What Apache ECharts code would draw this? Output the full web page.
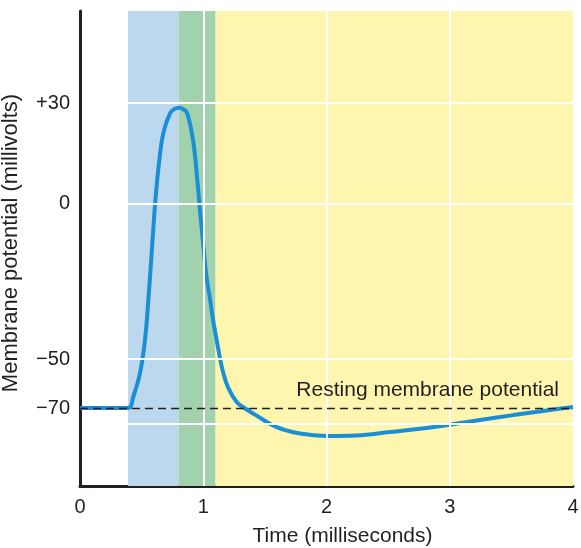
<!DOCTYPE html>
<html>
<head>
<meta charset="utf-8">
<script src="https://cdn.jsdelivr.net/npm/echarts@6/dist/echarts.min.js"></script>
<style>
  html, body { margin: 0; padding: 0; background: #ffffff; }
  #chart { width: 581px; height: 548px; }
</style>
</head>
<body>
<div id="chart"></div>
<script>
// ---- Data ----
const timeMs = [0, 0.39, 0.4325, 0.4868, 0.5274, 0.5598, 0.5866, 0.6118, 0.641, 0.6759, 0.7302, 0.7667, 0.8032, 0.8398, 0.8706, 0.9193, 0.9517, 0.9736, 0.998, 1.028, 1.0548, 1.0815, 1.1091, 1.1359, 1.1627, 1.2032, 1.2714, 1.3331, 1.4199, 1.5959, 1.785, 2.0016, 2.245, 2.5152, 2.7043, 2.9753, 3.2454, 3.5156, 3.7866, 4.0];
const potentialMv = [-70, -70, -65.4, -55.8, -43.9, -28.1, -13.0, 1.0, 12.1, 21.0, 26.9, 28.2, 28.6, 28.1, 26.9, 18.4, 7.0, -2.1, -12.4, -24.0, -30.7, -37.9, -43.9, -49.8, -55.7, -61.8, -67.6, -70.0, -72.7, -77.8, -80.4, -81.4, -81.2, -79.8, -78.8, -77.0, -74.9, -72.9, -71.0, -69.6];

const xTickValues = [0, 1, 2, 3, 4];
const yTickMv = [30, 0, -50, -70];
const yTickLabels = ['+30', '0', '\u221250', '\u221270'];
const gridLineMv = [30, 0, -50, -76.5];
const gridLineMs = [1, 2, 3];
const phaseStartMs = [0.39, 0.80, 1.10];
const phaseEndMs = [0.80, 1.10, 4.0];
const restingMv = -70;
const restingLabel = 'Resting membrane potential';
const xTitle = 'Time (milliseconds)';
const yTitle = 'Membrane potential (millivolts)';

// ---- The figure's vertical scale is piecewise linear between its labelled values ----
const SCALE_MV = [-70, -50, 0, 30];
const SCALE_U = [78, 127, 282.5, 383];
function toU(mv) {
  let i = 0;
  if (mv <= SCALE_MV[0]) i = 0;
  else if (mv >= SCALE_MV[SCALE_MV.length - 1]) i = SCALE_MV.length - 2;
  else { while (mv > SCALE_MV[i + 1]) i++; }
  const m0 = SCALE_MV[i], m1 = SCALE_MV[i + 1], u0 = SCALE_U[i], u1 = SCALE_U[i + 1];
  return u0 + (mv - m0) * (u1 - u0) / (m1 - m0);
}

const phaseColors = ['#bcd8ee', '#a1d2ad', '#fef6ae'];
const ink = '#231f20';
const font = '"Liberation Sans", Arial, Helvetica, sans-serif';

const chart = echarts.init(document.getElementById('chart'), null, { renderer: 'canvas' });

const option = {
  animation: false,
  backgroundColor: '#ffffff',
  grid: { left: 80, right: 8, top: 11, bottom: 62, containLabel: false, outerBoundsMode: 'none' },
  xAxis: {
    type: 'value', min: 0, max: 4, interval: 1,
    axisLine: { show: true, onZero: false, lineStyle: { color: ink, width: 3 } },
    axisTick: { show: false },
    splitLine: { show: false },
    axisLabel: { color: ink, fontSize: 20, fontFamily: font, margin: 11,
      customValues: xTickValues, formatter: v => String(v) },
    name: xTitle, nameLocation: 'middle', nameGap: 40,
    nameTextStyle: { color: ink, fontSize: 21, fontFamily: font, padding: [0, 0, 0, 32] }
  },
  yAxis: {
    type: 'value', min: 0, max: 475,
    axisLine: { show: true, onZero: false, lineStyle: { color: ink, width: 3 } },
    axisTick: { show: false },
    splitLine: { show: false },
    axisLabel: {
      color: ink, fontSize: 20, fontFamily: font, margin: 10,
      customValues: yTickMv.map(toU),
      formatter: v => {
        const i = yTickMv.findIndex(m => Math.abs(toU(m) - v) < 0.01);
        return i >= 0 ? yTickLabels[i] : '';
      }
    },
    name: yTitle, nameLocation: 'middle', nameGap: 58, nameRotate: 90,
    nameTextStyle: { color: ink, fontSize: 22, fontFamily: font, padding: [0, 0, 0, 11] }
  },
  series: [
    {
      name: 'phases', type: 'line', data: [], z: 1, silent: true,
      markArea: {
        silent: true,
        data: phaseStartMs.map((s, i) => [
          { xAxis: s, itemStyle: { color: phaseColors[i], opacity: 1 } },
          { xAxis: phaseEndMs[i] }
        ])
      }
    },
    {
      name: 'gridlines', type: 'line', data: [], z: 2, silent: true,
      markLine: {
        silent: true, symbol: 'none', animation: false,
        label: { show: false },
        lineStyle: { color: '#ffffff', width: 2, type: 'solid' },
        data: gridLineMs.map(t => ({ xAxis: t })).concat(
          gridLineMv.map(mv => [
            { coord: [phaseStartMs[0], toU(mv)] },
            { coord: [phaseEndMs[phaseEndMs.length - 1], toU(mv)] }
          ])
        )
      }
    },
    {
      name: 'membrane potential', type: 'line', z: 3,
      data: timeMs.map((t, i) => [t, toU(potentialMv[i])]),
      showSymbol: false, smooth: 0.4,
      lineStyle: { color: '#1b8fd5', width: 4 },
      itemStyle: { color: '#1b8fd5' }
    },
    {
      name: 'resting', type: 'line', data: [], z: 4, silent: true,
      markLine: {
        silent: true, symbol: 'none', animation: false,
        lineStyle: { color: ink, width: 1.3, type: [8, 5] },
        label: {
          show: true, position: 'insideEndTop', formatter: restingLabel,
          color: ink, fontSize: 21, fontFamily: font, distance: [14, 7]
        },
        data: [[
          { coord: [0, toU(restingMv)] },
          { coord: [4, toU(restingMv)] }
        ]]
      }
    }
  ]
};
chart.setOption(option);
</script>
</body>
</html>
